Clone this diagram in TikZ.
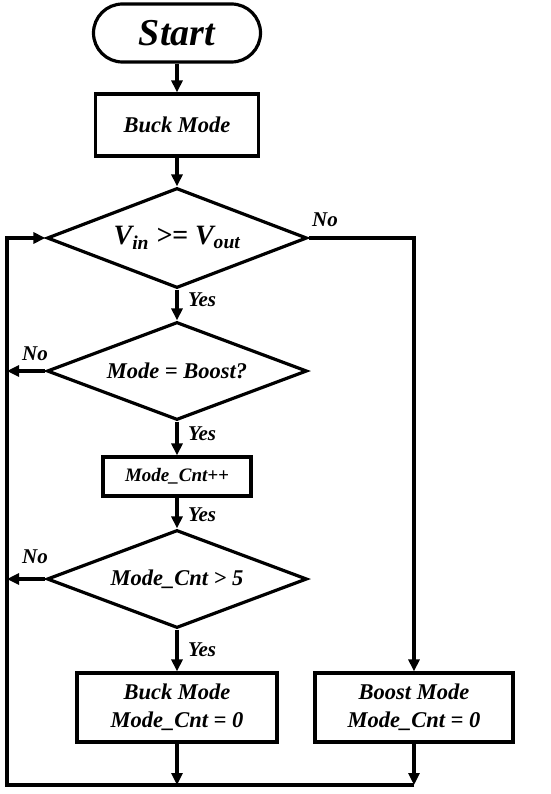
\documentclass[tikz,border=0pt]{standalone}
\usepackage{fontspec}
\setmainfont{Liberation Serif}
\usetikzlibrary{shapes.geometric,arrows.meta}
\begin{document}
\begin{tikzpicture}[x=1pt,y=-1pt,
 lw/.style={line width=3.2pt},
 box/.style={draw,lw,rectangle,inner sep=0pt,align=center,font=\bfseries\itshape\fontsize{22.5}{28}\selectfont},
 dec/.style={draw,lw,diamond,inner sep=0pt,aspect=2.6,minimum width=260pt,minimum height=100pt,font=\bfseries\itshape\fontsize{22.5}{26}\selectfont},
 arr/.style={lw,line join=miter,-{Triangle[length=12pt,width=11pt]}},
 lbl/.style={inner sep=0pt,font=\bfseries\itshape\fontsize{21}{24}\selectfont}
]
\useasboundingbox (0,0) rectangle (550,794);
\node[draw,lw,rounded corners=29pt,minimum width=167pt,minimum height=58pt,inner sep=0pt,font=\bfseries\itshape\fontsize{38}{40}\selectfont] (start) at (177,33) {Start};
\node[box,minimum width=163pt,minimum height=62pt] (buck0) at (177,125) {Buck Mode};
\node[dec,font=\bfseries\itshape\fontsize{28}{30}\selectfont] (d1) at (177,238) {V\textsubscript{in} >= V\textsubscript{out}};
\node[dec,minimum height=98pt] (d2) at (177,371) {Mode = Boost?};
\node[box,minimum width=148pt,minimum height=39pt,font=\bfseries\itshape\fontsize{19}{22}\selectfont] (cnt) at (177,476.5) {Mode\_Cnt++};
\node[dec,minimum height=98pt] (d3) at (177,579) {Mode\_Cnt > 5};
\node[box,minimum width=200pt,minimum height=69pt] (buck1) at (177,707.5) {Buck Mode\\Mode\_Cnt = 0};
\node[box,minimum width=198pt,minimum height=69pt] (boost) at (414,707.5) {Boost Mode\\Mode\_Cnt = 0};
\coordinate (bl) at (7,785);
\coordinate (br) at (414,785);
\coordinate (tl) at (7,238);
\draw[arr] (start) -- (buck0);
\draw[arr] (buck0) -- (d1);
\draw[arr] (d1) -- (d2);
\draw[arr] (d2) -- (cnt);
\draw[arr] (cnt) -- (d3);
\draw[arr] (d3) -- (buck1);
\draw[arr] (d1.east) -| (boost.north);
\draw[arr] (br) -- (bl) -- (tl) -- (d1.west);
\draw[arr] (d2.west) -- (d2.west -| tl);
\draw[arr] (d3.west) -- (d3.west -| tl);
\draw[arr] (buck1.south) -- (buck1.south |- bl);
\draw[arr] (boost.south) -- (br);
\node[lbl] (no1) at (325,220) {No};
\node[lbl] (no2) at (35,354) {No};
\node[lbl] (no3) at (35,557) {No};
\node[lbl] (y1) at (202,300) {Yes};
\node[lbl] (y2) at (202,434) {Yes};
\node[lbl] (y3) at (202,515) {Yes};
\node[lbl] (y4) at (202,650) {Yes};
\end{tikzpicture}
\end{document}
